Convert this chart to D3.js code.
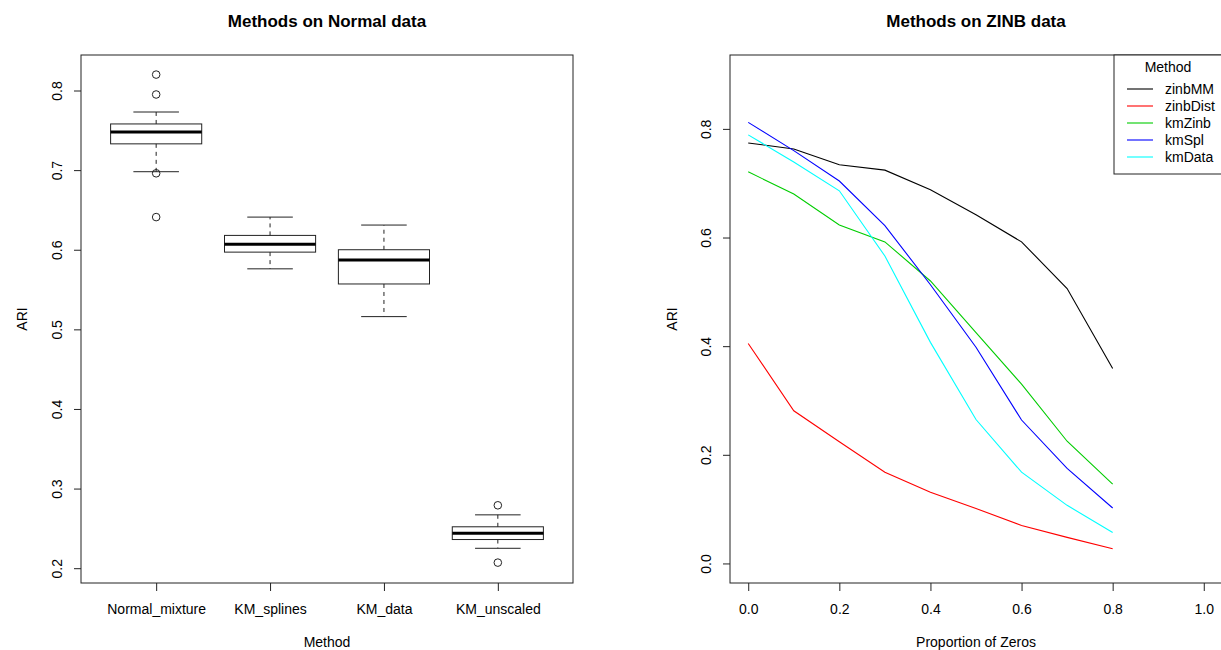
<!DOCTYPE html>
<html>
<head>
<meta charset="utf-8">
<script src="https://cdn.jsdelivr.net/npm/d3@7"></script>
<style>
  html, body { margin: 0; padding: 0; background: #fff; }
  svg { display: block; font-family: "Liberation Sans", Arial, Helvetica, sans-serif; }
</style>
</head>
<body>
<svg id="chart" width="1221" height="650"></svg>
<script>
// ---------- Data: left panel (boxplots) ----------
const boxCategories = ["Normal_mixture", "KM_splines", "KM_data", "KM_unscaled"];
const boxWhiskerLow = [0.698, 0.576, 0.516, 0.225];
const boxQ1         = [0.733, 0.597, 0.557, 0.236];
const boxMedian     = [0.748, 0.607, 0.587, 0.244];
const boxQ3         = [0.758, 0.618, 0.600, 0.252];
const boxWhiskerHigh= [0.773, 0.641, 0.631, 0.267];
const boxOutliers   = [[0.820, 0.795, 0.696, 0.641], [], [], [0.279, 0.207]];
const leftYTicks    = [0.2, 0.3, 0.4, 0.5, 0.6, 0.7, 0.8];

// ---------- Data: right panel (lines) ----------
const propZeros = [0.0, 0.1, 0.2, 0.3, 0.4, 0.5, 0.6, 0.7, 0.8];
const seriesNames = ["zinbMM", "zinbDist", "kmZinb", "kmSpl", "kmData"];
const seriesColors = ["#000000", "#ff0000", "#00cd00", "#0000ff", "#00ffff"];
const zinbMM   = [0.774, 0.763, 0.734, 0.724, 0.688, 0.642, 0.592, 0.506, 0.359];
const zinbDist = [0.405, 0.281, 0.224, 0.168, 0.131, 0.101, 0.070, 0.048, 0.027];
const kmZinb   = [0.721, 0.680, 0.623, 0.592, 0.520, 0.425, 0.330, 0.225, 0.146];
const kmSpl    = [0.812, 0.760, 0.704, 0.622, 0.513, 0.398, 0.264, 0.175, 0.102];
const kmData   = [0.789, 0.739, 0.686, 0.566, 0.407, 0.265, 0.168, 0.107, 0.057];
const seriesValues = [zinbMM, zinbDist, kmZinb, kmSpl, kmData];
const rightXTicks = [0.0, 0.2, 0.4, 0.6, 0.8, 1.0];
const rightYTicks = [0.0, 0.2, 0.4, 0.6, 0.8];

const svg = d3.select("#chart");
const FONT = 14;
const axisColor = "#222";

// ================= LEFT PANEL =================
const L = { left: 81, right: 573, top: 55, bottom: 583 };
const xL = d3.scaleLinear().domain([0.34, boxCategories.length + 0.66]).range([L.left, L.right]);
const yL = d3.scaleLinear().domain([0.1814, 0.8446]).range([L.bottom, L.top]);

const gL = svg.append("g");
gL.append("rect").attr("x", L.left).attr("y", L.top)
  .attr("width", L.right - L.left).attr("height", L.bottom - L.top)
  .attr("fill", "none").attr("stroke", axisColor).attr("stroke-width", 1);

const boxHalf = xL(1.4) - xL(1);   // boxwex 0.8
const capHalf = boxHalf / 2;        // staplewex 0.5

boxCategories.forEach((c, i) => {
  const cx = xL(i + 1);
  const g = gL.append("g");
  g.append("line").attr("x1", cx).attr("x2", cx)
    .attr("y1", yL(boxQ3[i])).attr("y2", yL(boxWhiskerHigh[i]))
    .attr("stroke", axisColor).attr("stroke-dasharray", "4,4");
  g.append("line").attr("x1", cx).attr("x2", cx)
    .attr("y1", yL(boxQ1[i])).attr("y2", yL(boxWhiskerLow[i]))
    .attr("stroke", axisColor).attr("stroke-dasharray", "4,4");
  [boxWhiskerHigh[i], boxWhiskerLow[i]].forEach(v => {
    g.append("line").attr("x1", cx - capHalf).attr("x2", cx + capHalf)
      .attr("y1", yL(v)).attr("y2", yL(v)).attr("stroke", axisColor);
  });
  g.append("rect").attr("x", cx - boxHalf).attr("y", yL(boxQ3[i]))
    .attr("width", 2 * boxHalf).attr("height", yL(boxQ1[i]) - yL(boxQ3[i]))
    .attr("fill", "none").attr("stroke", axisColor);
  g.append("line").attr("x1", cx - boxHalf).attr("x2", cx + boxHalf)
    .attr("y1", yL(boxMedian[i])).attr("y2", yL(boxMedian[i]))
    .attr("stroke", "#000").attr("stroke-width", 3);
  boxOutliers[i].forEach(v => {
    g.append("circle").attr("cx", cx).attr("cy", yL(v)).attr("r", 3.8)
      .attr("fill", "none").attr("stroke", axisColor);
  });
});

const yAxisL = gL.append("g").attr("transform", `translate(${L.left},0)`)
  .call(d3.axisLeft(yL).tickValues(leftYTicks).tickSize(7).tickSizeOuter(0).tickFormat(d3.format(".1f")));
const xAxisL = gL.append("g").attr("transform", `translate(0,${L.bottom})`)
  .call(d3.axisBottom(xL).tickValues(d3.range(1, boxCategories.length + 1)).tickSize(8).tickSizeOuter(0)
    .tickFormat((d) => boxCategories[d - 1]));

gL.append("text").attr("x", (L.left + L.right) / 2).attr("y", 27)
  .attr("text-anchor", "middle").attr("font-weight", "bold").attr("font-size", 17)
  .text("Methods on Normal data");
gL.append("text").attr("x", (L.left + L.right) / 2).attr("y", 647)
  .attr("text-anchor", "middle").attr("font-size", FONT).text("Method");
gL.append("text").attr("transform", `translate(27,${(L.top + L.bottom) / 2}) rotate(-90)`)
  .attr("text-anchor", "middle").attr("font-size", FONT).text("ARI");

// ================= RIGHT PANEL =================
const R = { left: 730, right: 1222, top: 55, bottom: 583 };
const xR = d3.scaleLinear().domain([-0.04, 1.04]).range([R.left, R.right]);
const yR = d3.scaleLinear().domain([-0.036, 0.936]).range([R.bottom, R.top]);

const gR = svg.append("g");
gR.append("rect").attr("x", R.left).attr("y", R.top)
  .attr("width", R.right - R.left).attr("height", R.bottom - R.top)
  .attr("fill", "none").attr("stroke", axisColor).attr("stroke-width", 1);

const line = d3.line().x((d, i) => xR(propZeros[i])).y(d => yR(d));
seriesValues.forEach((vals, k) => {
  gR.append("path").datum(vals).attr("d", line)
    .attr("fill", "none").attr("stroke", seriesColors[k]).attr("stroke-width", 1.1);
});

const yAxisR = gR.append("g").attr("transform", `translate(${R.left},0)`)
  .call(d3.axisLeft(yR).tickValues(rightYTicks).tickSize(7).tickSizeOuter(0).tickFormat(d3.format(".1f")));
const xAxisR = gR.append("g").attr("transform", `translate(0,${R.bottom})`)
  .call(d3.axisBottom(xR).tickValues(rightXTicks).tickSize(8).tickSizeOuter(0).tickFormat(d3.format(".1f")));

gR.append("text").attr("x", (R.left + R.right) / 2).attr("y", 27)
  .attr("text-anchor", "middle").attr("font-weight", "bold").attr("font-size", 17)
  .text("Methods on ZINB data");
gR.append("text").attr("x", (R.left + R.right) / 2).attr("y", 647)
  .attr("text-anchor", "middle").attr("font-size", FONT).text("Proportion of Zeros");
gR.append("text").attr("transform", `translate(677,${(R.top + R.bottom) / 2}) rotate(-90)`)
  .attr("text-anchor", "middle").attr("font-size", FONT).text("ARI");

[yAxisL, yAxisR].forEach(ax => {
  ax.select(".domain").remove();
  ax.selectAll(".tick line").attr("stroke", axisColor);
  ax.selectAll(".tick text")
    .attr("x", null).attr("dy", null)
    .attr("transform", "translate(-19,0) rotate(-90)")
    .attr("text-anchor", "middle")
    .attr("font-size", FONT).attr("font-family", null).attr("fill", "#000");
});
[xAxisL, xAxisR].forEach(ax => {
  ax.select(".domain").remove();
  ax.selectAll(".tick line").attr("stroke", axisColor);
  ax.selectAll(".tick text").attr("y", 31).attr("dy", null)
    .attr("font-size", FONT).attr("font-family", null).attr("fill", "#000");
});

// legend
const leg = gR.append("g");
const legX = 1114, legY = 55, legW = 120, legH = 119;
leg.append("rect").attr("x", legX).attr("y", legY).attr("width", legW).attr("height", legH)
  .attr("fill", "#fff").attr("stroke", axisColor);
leg.append("text").attr("x", 1168).attr("y", 72).attr("text-anchor", "middle")
  .attr("font-size", FONT).text("Method");
seriesNames.forEach((n, k) => {
  const yy = 89 + k * 17;
  leg.append("line").attr("x1", 1127).attr("x2", 1153).attr("y1", yy).attr("y2", yy)
    .attr("stroke", seriesColors[k]).attr("stroke-width", 1.1);
  leg.append("text").attr("x", 1165).attr("y", yy + 5).attr("font-size", FONT).text(n);
});
</script>
</body>
</html>
